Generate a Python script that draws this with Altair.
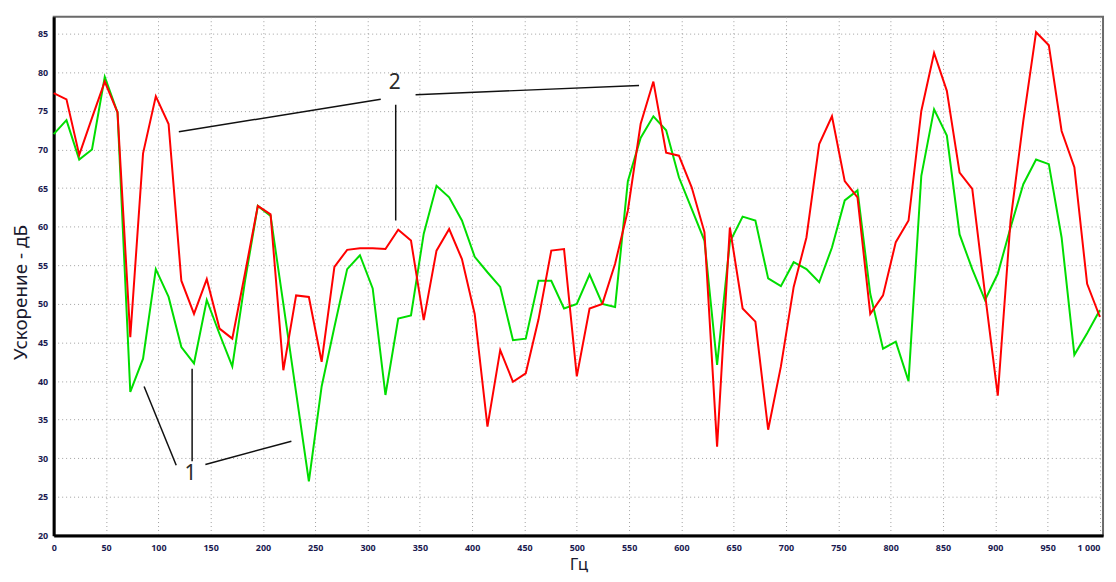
import altair as alt
import pandas as pd

# Frequency (Hz) of each sample
freq = [0.0, 12.2, 24.4, 36.6, 48.8, 61.0, 73.2, 85.4, 97.6, 109.8,
        122.0, 134.1, 146.3, 158.5, 170.7, 182.9, 195.1, 207.3, 219.5, 231.7,
        243.9, 256.1, 268.3, 280.5, 292.7, 304.9, 317.1, 329.3, 341.5, 353.7,
        365.9, 378.0, 390.2, 402.4, 414.6, 426.8, 439.0, 451.2, 463.4, 475.6,
        487.8, 500.0, 512.2, 524.4, 536.6, 548.8, 561.0, 573.2, 585.4, 597.6,
        609.8, 622.0, 634.1, 646.3, 658.5, 670.7, 682.9, 695.1, 707.3, 719.5,
        731.7, 743.9, 756.1, 768.3, 780.5, 792.7, 804.9, 817.1, 829.3, 841.5,
        853.7, 865.9, 878.0, 890.2, 902.4, 914.6, 926.8, 939.0, 951.2, 963.4,
        975.6, 987.8, 1000.0]

# Series 2 (red), dB
red = [77.3, 76.5, 69.3, 74.1, 78.8, 74.8, 45.7, 69.5, 76.9, 73.3,
       53.0, 48.7, 53.2, 46.8, 45.5, 54.0, 62.7, 61.6, 41.4, 51.1,
       50.9, 42.5, 54.8, 57.0, 57.2, 57.2, 57.1, 59.6, 58.2, 47.9,
       56.9, 59.7, 55.8, 48.7, 34.1, 44.0, 39.9, 41.0, 48.0, 56.9,
       57.1, 40.6, 49.4, 50.0, 55.2, 62.1, 73.3, 78.8, 69.6, 69.2,
       65.1, 59.3, 31.5, 59.9, 49.4, 47.7, 33.7, 41.9, 52.2, 58.6,
       70.7, 74.3, 65.9, 63.8, 48.7, 51.1, 58.0, 60.8, 75.0, 82.5,
       77.6, 67.0, 64.9, 51.3, 38.1, 60.8, 73.7, 85.2, 83.5, 72.4,
       67.7, 52.6, 48.3]

# Series 1 (green), dB
green = [72.0, 73.8, 68.7, 70.0, 79.4, 74.8, 38.6, 42.9, 54.5, 50.9,
         44.4, 42.3, 50.5, 46.1, 41.9, 53.0, 62.7, 61.4, 50.0, 38.5,
         27.0, 39.3, 47.0, 54.5, 56.3, 52.0, 38.2, 48.1, 48.5, 59.1,
         65.3, 63.8, 60.8, 56.1, 54.1, 52.2, 45.3, 45.5, 53.0, 53.0,
         49.4, 50.0, 53.8, 50.0, 49.6, 65.9, 71.5, 74.3, 72.5, 66.4,
         62.3, 58.2, 42.1, 58.0, 61.3, 60.8, 53.3, 52.3, 55.4, 54.5,
         52.8, 57.3, 63.4, 64.7, 51.3, 44.2, 45.1, 40.0, 66.6, 75.2,
         71.8, 59.0, 54.5, 50.5, 53.9, 59.9, 65.5, 68.7, 68.1, 58.6,
         43.4, 46.2, 49.2]

# Axis tick values
y_ticks = [20, 25, 30, 35, 40, 45, 50, 55, 60, 65, 70, 75, 80, 85]
x_ticks = [0, 50, 100, 150, 200, 250, 300, 350, 400, 450, 500,
           550, 600, 650, 700, 750, 800, 850, 900, 950, 1000]

# Annotation leader lines (data coordinates)
seg_x1 = [119.6, 345.9, 326.9, 86.4, 132.3, 145.0]
seg_y1 = [72.3, 77.1, 75.8, 39.3, 41.6, 29.2]
seg_x2 = [312.6, 559.5, 326.9, 117.1, 132.3, 227.2]
seg_y2 = [76.5, 78.3, 60.8, 29.1, 29.6, 32.2]

# Annotation labels
lab_x = [325.9, 130.7]
lab_y = [78.6, 27.9]
lab_t = ["2", "1"]

df_red = pd.DataFrame({"f": freq, "v": red})
df_green = pd.DataFrame({"f": freq, "v": green})
df_seg = pd.DataFrame({"x1": seg_x1, "y1": seg_y1, "x2": seg_x2, "y2": seg_y2})
df_lab = pd.DataFrame({"x": lab_x, "y": lab_y, "t": lab_t})

FONT = "Noto Sans"
xscale = alt.Scale(domain=[0, 1003], nice=False, zero=False)
yscale = alt.Scale(domain=[20, 87.2], nice=False, zero=False)

x_axis = alt.Axis(values=x_ticks, title="Гц", titleFontSize=17, titleFont=FONT,
                  titleFontWeight="normal", titleColor="#1a1a2e", titleY=21,
                  labelFontSize=9, labelFont=FONT, labelFontWeight="bold",
                  labelColor="#1a1a50", labelPadding=8, ticks=False,
                  labelAlign={"condition": {"test": "datum.value >= 1000",
                                            "value": "right"},
                              "value": "center"},
                  labelExpr="replace(datum.label, ',', ' ')")
y_axis = alt.Axis(values=y_ticks, title="Ускорение - дБ", titleFontSize=19,
                  titleFont=FONT, titleFontWeight="normal", titleColor="#1a1a2e",
                  titleX=-23, titleY=277, labelFontSize=9, labelFont=FONT,
                  labelFontWeight="bold", labelColor="#1a1a50", labelPadding=6,
                  ticks=False)

base_x = alt.X("f:Q", scale=xscale, axis=x_axis)
base_y = alt.Y("v:Q", scale=yscale, axis=y_axis)

green_line = alt.Chart(df_green).mark_line(color="#00dd00", strokeWidth=2).encode(
    x=base_x, y=base_y)
red_line = alt.Chart(df_red).mark_line(color="#ff0000", strokeWidth=2).encode(
    x=alt.X("f:Q", scale=xscale), y=alt.Y("v:Q", scale=yscale))

segs = alt.Chart(df_seg).mark_rule(color="#111111", strokeWidth=1.5).encode(
    x=alt.X("x1:Q", scale=xscale), y=alt.Y("y1:Q", scale=yscale),
    x2="x2:Q", y2="y2:Q")

labels = alt.Chart(df_lab).mark_text(fontSize=21, font=FONT, color="#2a2a2a",
                                     baseline="middle", align="center").encode(
    x=alt.X("x:Q", scale=xscale), y=alt.Y("y:Q", scale=yscale), text="t:N")

chart = alt.layer(green_line, red_line, segs, labels).properties(
    width=1056, height=522,
    autosize=alt.AutoSizeParams(type="none"),
    padding={"left": 46, "top": 7, "right": 5, "bottom": 37},
    background="white",
).configure_view(
    stroke="#6a6a6a", strokeWidth=2
).configure_axis(
    grid=True, gridColor="#a0a0a0", gridDash=[1, 3], gridWidth=1,
    domainColor="#000000", domainWidth=3
)

chart.save("out.html", embed_options={"renderer": "svg", "actions": False})
